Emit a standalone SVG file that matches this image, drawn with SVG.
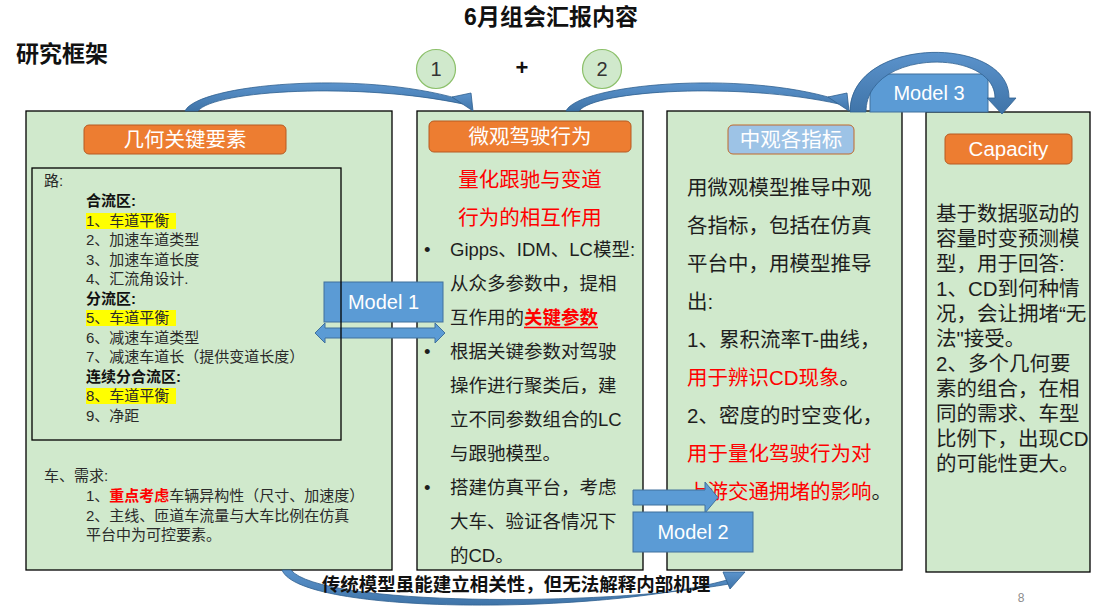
<svg xmlns="http://www.w3.org/2000/svg" width="1104" height="613" viewBox="0 0 1104 613">
  <defs>
    <linearGradient id="arcFill" x1="0" y1="0" x2="0" y2="1">
      <stop offset="0" stop-color="#5b93cc"/>
      <stop offset="1" stop-color="#3f74a8"/>
    </linearGradient>
  </defs>
  <style>
    text { font-family: "Liberation Sans", "Noto Sans CJK SC", sans-serif; }
    .panel { fill: #d0e9cc; stroke: #000; stroke-width: 1.3; }
    .hdr { fill: #ed7d31; stroke: #b65b22; stroke-width: 1; }
    .hdr-blue { fill: #9dc3e6; stroke: #c0692c; stroke-width: 1; }
    .hdr-txt { fill: #fff; font-size: 20.5px; text-anchor: middle; }
    .item { fill: #2a2a2a; font-size: 15px; }
    .bold { font-weight: bold; fill: #111; }
    .hl { fill: #ffff00; }
    .body2 { fill: #1e1e1e; font-size: 18.5px; }
    .body3 { fill: #1e1e1e; font-size: 20.5px; }
    .red { fill: #ff0000; }
    .model { fill: #5b9bd5; stroke: #41719c; stroke-width: 1; }
    .model-txt { fill: #fff; font-size: 20px; text-anchor: middle; }
    .arc { fill: url(#arcFill); stroke: #2f5f8f; stroke-width: 0.8; }
    .step { fill: #d0e9cc; stroke: #8cc06a; stroke-width: 1.2; }
    .step-txt { fill: #333; font-size: 20px; text-anchor: middle; }
  </style>

  <rect width="1104" height="613" fill="#fff"/>

  <!-- headings -->
  <text x="551" y="25" font-size="23" font-weight="bold" fill="#111" text-anchor="middle">6月组会汇报内容</text>
  <text x="16" y="62" font-size="23" font-weight="bold" fill="#111">研究框架</text>

  <!-- step markers -->
  <g id="step-1">
    <circle class="step" cx="436" cy="69" r="19.5"/>
    <text class="step-txt" x="436" y="76">1</text>
  </g>
  <text x="522" y="75" font-size="22" font-weight="bold" fill="#111" text-anchor="middle">+</text>
  <g id="step-2">
    <circle class="step" cx="602" cy="69" r="19.5"/>
    <text class="step-txt" x="602" y="76">2</text>
  </g>

  <!-- panel: geometry elements -->
  <g id="geometry">
    <rect class="panel" x="26" y="111" width="366" height="459"/>
    <rect class="hdr" x="84" y="125" width="202" height="29" rx="5"/>
    <text class="hdr-txt" x="185" y="147">几何关键要素</text>
    <rect class="hl" x="86" y="213" width="90" height="16"/>
    <rect class="hl" x="86" y="310" width="90" height="16"/>
    <rect class="hl" x="86" y="388" width="90" height="16"/>
    <text class="item" x="44" y="186">路:</text>
    <text class="item bold" x="86" y="206">合流区:</text>
    <text class="item" x="86" y="226">1、车道平衡</text>
    <text class="item" x="86" y="245">2、加速车道类型</text>
    <text class="item" x="86" y="265">3、加速车道长度</text>
    <text class="item" x="86" y="284">4、汇流角设计.</text>
    <text class="item bold" x="86" y="304">分流区:</text>
    <text class="item" x="86" y="323">5、车道平衡</text>
    <text class="item" x="86" y="343">6、减速车道类型</text>
    <text class="item" x="86" y="362">7、减速车道长（提供变道长度）</text>
    <text class="item bold" x="86" y="382">连续分合流区:</text>
    <text class="item" x="86" y="401">8、车道平衡</text>
    <text class="item" x="86" y="421">9、净距</text>
    <text class="item" x="44" y="481">车、需求:</text>
    <text class="item" x="86" y="501">1、<tspan font-weight="bold" fill="#ff0000">重点考虑</tspan>车辆异构性（尺寸、加速度）</text>
    <text class="item" x="86" y="521">2、主线、匝道车流量与大车比例在仿真</text>
    <text class="item" x="86" y="540">平台中为可控要素。</text>
  </g>

  <!-- panel: micro driving behaviour -->
  <g id="micro">
    <rect class="panel" x="417" y="111" width="226" height="459"/>
    <rect class="hdr" x="429" y="121" width="202" height="31" rx="5"/>
    <text class="hdr-txt" x="530" y="144">微观驾驶行为</text>
    <text class="red" x="530" y="187" font-size="20.5" text-anchor="middle">量化跟驰与变道</text>
    <text class="red" x="530" y="225" font-size="20.5" text-anchor="middle">行为的相互作用</text>
    <text class="body2" x="424" y="256">•</text>
    <text class="body2" x="450" y="256">Gipps、IDM、LC模型:</text>
    <text class="body2" x="450" y="290">从众多参数中，提相</text>
    <text class="body2" x="450" y="324">互作用的<tspan font-weight="bold" fill="#ff0000">关键参数</tspan></text>
    <line x1="524" y1="327.5" x2="598" y2="327.5" stroke="#ff0000" stroke-width="1.3"/>
    <text class="body2" x="424" y="358">•</text>
    <text class="body2" x="450" y="358">根据关键参数对驾驶</text>
    <text class="body2" x="450" y="392">操作进行聚类后，建</text>
    <text class="body2" x="450" y="426">立不同参数组合的LC</text>
    <text class="body2" x="450" y="460">与跟驰模型。</text>
    <text class="body2" x="424" y="494">•</text>
    <text class="body2" x="450" y="494">搭建仿真平台，考虑</text>
    <text class="body2" x="450" y="528">大车、验证各情况下</text>
    <text class="body2" x="450" y="562">的CD。</text>
  </g>

  <!-- panel: meso indicators -->
  <g id="meso">
    <rect class="panel" x="667" y="111" width="235" height="459"/>
    <rect class="hdr-blue" x="728" y="125" width="126" height="29" rx="5"/>
    <text class="hdr-txt" x="791" y="147">中观各指标</text>
    <text class="body3" x="687" y="195">用微观模型推导中观</text>
    <text class="body3" x="687" y="233">各指标，包括在仿真</text>
    <text class="body3" x="687" y="271">平台中，用模型推导</text>
    <text class="body3" x="687" y="309">出:</text>
    <text class="body3" x="687" y="347">1、累积流率T-曲线，</text>
    <text class="body3" x="687" y="385"><tspan fill="#ff0000">用于辨识CD现象</tspan>。</text>
    <text class="body3" x="687" y="423">2、密度的时空变化，</text>
    <text class="body3" x="687" y="461" fill="#ff0000" style="fill:#ff0000">用于量化驾驶行为对</text>
    <text class="body3" x="687" y="499"><tspan fill="#ff0000">上游交通拥堵的影响</tspan>。</text>
  </g>

  <!-- panel: capacity -->
  <g id="capacity">
    <rect class="panel" x="926" y="112" width="164" height="460"/>
    <rect class="hdr" x="945" y="134" width="127" height="30" rx="5"/>
    <text class="hdr-txt" x="1008.5" y="156" font-size="20">Capacity</text>
    <text class="body3" x="936" y="221">基于数据驱动的</text>
    <text class="body3" x="936" y="246">容量时变预测模</text>
    <text class="body3" x="936" y="271">型，用于回答:</text>
    <text class="body3" x="936" y="296">1、CD到何种情</text>
    <text class="body3" x="936" y="321">况，会让拥堵“无</text>
    <text class="body3" x="936" y="346">法"接受。</text>
    <text class="body3" x="936" y="371">2、多个几何要</text>
    <text class="body3" x="936" y="396">素的组合，在相</text>
    <text class="body3" x="936" y="421">同的需求、车型</text>
    <text class="body3" x="936" y="446">比例下，出现CD</text>
    <text class="body3" x="936" y="471">的可能性更大。</text>
  </g>

  <!-- connectors -->
  <g id="connectors">
    <!-- step 1: geometry -> micro -->
    <path class="arc" d="M185,111 C198,84 360,70 459,99 L463,104 C360,82 214,90 198,111 Z"/>
    <path class="arc" d="M452,97 L471,93 L473,111 Z"/>
    <!-- step 2: micro -> meso -->
    <path class="arc" d="M566,111 C579,84 740,70 835,99 L839,104 C740,82 595,90 579,111 Z"/>
    <path class="arc" d="M828,97 L847,93 L849,111 Z"/>

    <!-- Model 1: two-way link geometry <-> micro -->
    <g id="model-1">
      <rect class="model" x="324" y="282" width="119" height="40"/>
      <text class="model-txt" x="383.5" y="309">Model 1</text>
      <path class="model" d="M315,333 L325,323 L325,328 L435,328 L435,323 L445,333 L435,343 L435,338 L325,338 L325,343 Z"/>
    </g>

    <!-- Model 2: micro -> meso -->
    <g id="model-2">
      <path class="model" d="M633,490 L705,490 L705,482 L718,497.5 L705,513 L705,505 L633,505 Z"/>
      <rect class="model" x="633" y="512" width="120" height="40"/>
      <text class="model-txt" x="693" y="539">Model 2</text>
    </g>

    <!-- Model 3: meso -> capacity -->
    <g id="model-3">
      <rect class="model" x="870" y="74" width="118" height="38"/>
      <text class="model-txt" x="929" y="100">Model 3</text>
      <path class="arc" d="M850,112 C850,35 1010,35 1009,98 L1016,98 L1002,114 L987,98 L995,98 C995,48 866,48 866,112 Z"/>
    </g>

    <!-- lower link: geometry -> meso -->
    <path class="arc" d="M282,570 C300,615 600,615 727,580 L729,584 C600,607 320,606 291,570 Z"/>
    <path class="arc" d="M723,572 L745,572 L730,589 Z"/>
  </g>

  <!-- road list frame sits above the Model 1 link -->
  <g id="road-list">
    <rect x="32" y="168" width="309" height="272" fill="none" stroke="#000" stroke-width="1.3"/>
  </g>

  <text x="516" y="591" font-size="18.5" font-weight="bold" fill="#111" text-anchor="middle">传统模型虽能建立相关性，但无法解释内部机理</text>
  <text x="1021" y="602" font-size="12" fill="#8c8c8c" text-anchor="middle">8</text>
</svg>
